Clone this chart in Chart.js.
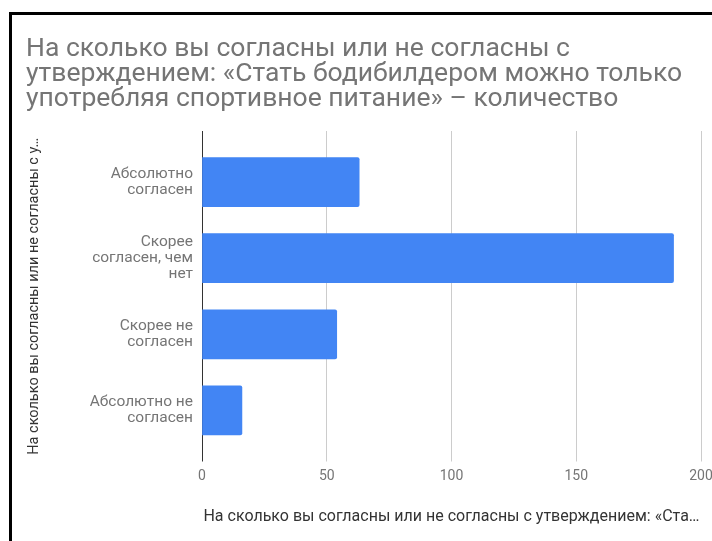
<!DOCTYPE html>
<html lang="ru">
<head>
<meta charset="UTF-8">
<title>Спортивное питание – количество</title>
<script src="https://cdn.jsdelivr.net/npm/chart.js"></script>
<style>
  html, body { margin: 0; padding: 0; overflow: hidden; background: #fff; }
  #frame {
    position: absolute; left: 9px; top: 12px; width: 800px; height: 600px;
    border-top: 3px solid #000; border-left: 3px solid #000;
  }
  #wrap { position: absolute; left: 0; top: 0; }
</style>
</head>
<body>
<div id="frame"></div>
<div id="wrap"><canvas id="chart" width="730" height="541"></canvas></div>
<script>
// Ответы на вопрос и число респондентов
const answers = [
  ['Абсолютно', 'согласен'],
  ['Скорее', 'согласен, чем', 'нет'],
  ['Скорее не', 'согласен'],
  ['Абсолютно не', 'согласен']
];
const counts = [63, 189, 54, 16];
const xMin = 0;
const xMax = 200;
const xStep = 50;

const titleLines = [
  'На сколько вы согласны или не согласны с',
  'утверждением: «Стать бодибилдером можно только',
  'употребляя спортивное питание» – количество'
];
const xTitle = 'На сколько вы согласны или не согласны с утверждением: «Ста…';
const yTitle = 'На сколько вы согласны или не согласны с у…';

const FONT = 'Roboto, "Noto Sans", sans-serif';
const gray = '#757575';
const gridColor = c => (c.tick && c.tick.value === 0 ? '#333333' : '#cccccc');

const ctx = document.getElementById('chart').getContext('2d');
new Chart(ctx, {
  type: 'bar',
  data: {
    labels: answers,
    datasets: [{
      data: counts,
      backgroundColor: '#4285f4',
      borderRadius: 2,
      barThickness: 49
    }]
  },
  options: {
    indexAxis: 'y',
    responsive: false,
    animation: false,
    layout: { padding: { left: 26, right: 29, top: 0, bottom: 0 } },
    plugins: {
      legend: { display: false },
      tooltip: { enabled: false },
      title: {
        display: true,
        text: titleLines,
        align: 'start',
        color: gray,
        font: { family: FONT, size: 26.5, weight: 'normal', lineHeight: 25 / 26.5 },
        padding: { top: 37, bottom: 19 }
      }
    },
    scales: {
      x: {
        type: 'linear',
        position: 'bottom',
        min: xMin,
        max: xMax,
        ticks: { stepSize: xStep, color: gray, font: { family: FONT, size: 14 }, padding: 7 },
        grid: { color: gridColor, tickLength: 13 },
        border: { display: false },
        title: {
          display: true,
          text: xTitle,
          color: '#333333',
          font: { family: FONT, size: 16 },
          padding: { top: 0, bottom: 14 }
        },
        afterFit: s => { s.height = 92.5; }
      },
      xTop: {
        type: 'linear',
        position: 'top',
        min: xMin,
        max: xMax,
        ticks: { display: false, stepSize: xStep },
        grid: { color: gridColor, tickLength: 13, drawOnChartArea: false },
        border: { display: false },
        afterFit: s => { s.height = 13; }
      },
      y: {
        ticks: { color: gray, font: { family: FONT, size: 15.5, lineHeight: 16 / 15.5 }, padding: 9 },
        grid: { display: false, drawTicks: false },
        border: { display: false },
        title: {
          display: true,
          text: yTitle,
          color: '#333333',
          font: { family: FONT, size: 14.5 },
          padding: 0
        },
        afterFit: s => { s.width = 176; }
      }
    }
  }
});
</script>
</body>
</html>
